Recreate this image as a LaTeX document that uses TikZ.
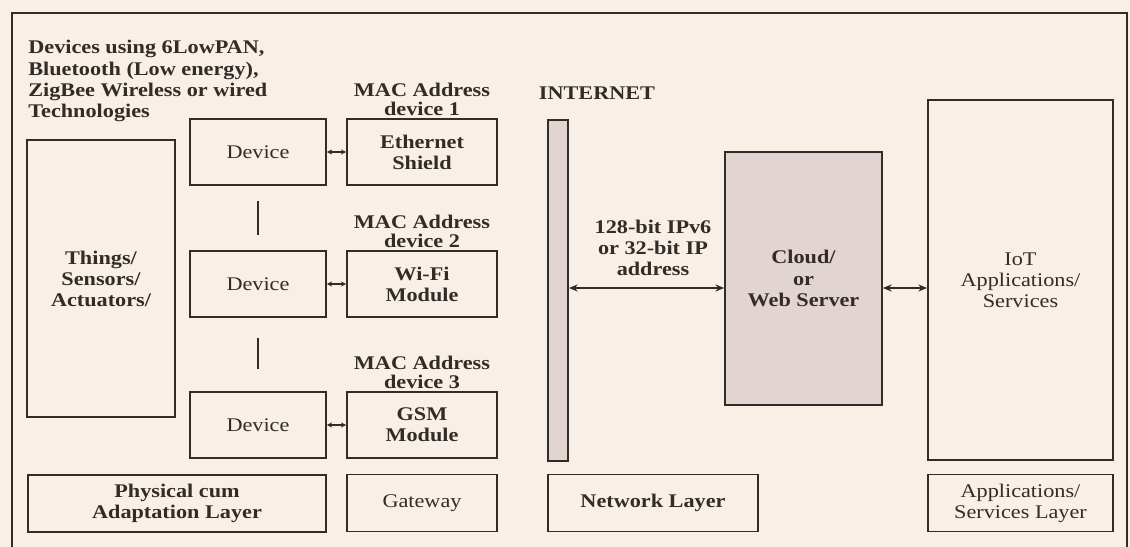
\documentclass[tikz,border=0pt]{standalone}
\usepackage{fontspec}
\setmainfont{Liberation Serif}[FakeStretch=1.15]
\usetikzlibrary{arrows.meta, positioning}
\definecolor{carta}{RGB}{248,239,230}
\definecolor{inchiostro}{RGB}{50,43,40}
\definecolor{retino}{RGB}{226,212,208}

\begin{document}
\begin{tikzpicture}[
  x=0.02cm, y=-0.02cm,
  font=\fontsize{11}{12}\selectfont,
  every node/.style={text=inchiostro},
  grassetto/.style={font=\fontsize{11}{12}\selectfont\bfseries},
  blocco/.style={draw=inchiostro, line width=1pt, inner sep=0pt, align=center},
  dispositivo/.style={blocco, minimum width=2.72cm, minimum height=1.32cm},
  modulo/.style={blocco, grassetto, minimum width=3.0cm, minimum height=1.32cm},
  strato/.style={blocco, minimum height=1.14cm},
  indirizzo/.style={inner sep=0pt, align=center, font=\fontsize{11}{11}\selectfont\bfseries},
  punta/.style={{Stealth[length=5pt,width=4pt]}-{Stealth[length=5pt,width=4pt]}},
  puntina/.style={{Stealth[length=3pt,width=3pt]}-{Stealth[length=3pt,width=3pt]}},
  collegamento/.style={draw=inchiostro, line width=0.9pt, punta},
  trattino/.style={draw=inchiostro, line width=1.4pt}
]
\path[use as bounding box, fill=carta] (0,0) rectangle (1130,547);

% cornice
\draw[inchiostro, line width=1pt] (12,560) -- (12,13) -- (1127,13) -- (1127,560);

\node[anchor=west, align=left, inner sep=0pt, grassetto] (tec) at (28,81)
  {Devices using 6LowPAN,\\Bluetooth (Low energy),\\ZigBee Wireless or wired\\Technologies};
\node[blocco, grassetto, minimum width=2.96cm, minimum height=5.54cm] (T) at (101,278.5)
  {Things/\\Sensors/\\Actuators/};

\foreach \c/\y/\m in {1/152/{Ethernet\\Shield}, 2/284/{Wi-Fi\\Module}, 3/425/{GSM\\Module}} {
  \node[dispositivo] (D\c) at (258,\y) {Device};
  \node[modulo] (M\c) at (422,\y) {\m};
  \node[indirizzo, above=1pt of M\c] (A\c) {MAC Address\\device \c};
  \draw[draw=inchiostro, line width=0.9pt, puntina] (D\c) -- (M\c);
}
\draw[trattino, shorten <=0.3cm, shorten >=0.3cm] (D1) -- (D2);
\draw[trattino, shorten <=0.4cm, shorten >=0.44cm] (D2) -- (D3);

% rete
\node[grassetto] (N) at (597,93) {INTERNET};
\node[blocco, fill=retino, minimum width=0.4cm, minimum height=6.82cm] (B) at (558,290.5) {};
\node[blocco, grassetto, fill=retino, minimum width=3.14cm, minimum height=5.06cm] (C) at (803.5,278.5)
  {Cloud/\\or\\Web Server};
\node[blocco, minimum width=3.7cm, minimum height=7.2cm] (S) at (1020.5,280)
  {IoT\\Applications/\\Services};
\node[align=center, grassetto] (IP) at (653,248) {128-bit IPv6\\or 32-bit IP\\address};

\coordinate (livello) at (0,288);
\draw[collegamento] (B.east |- livello) -- (C.west |- livello);
\draw[collegamento] (C.east |- livello) -- (S.west |- livello);

% strati
\node[strato, grassetto, minimum width=5.96cm] (L1) at (177,503.5) {Physical cum\\Adaptation Layer};
\node[strato, minimum width=3.0cm] (L2) at (422,503) {Gateway};
\node[strato, grassetto, minimum width=4.2cm] (L3) at (653,503) {Network Layer};
\node[strato, minimum width=3.7cm] (L4) at (1020.5,503) {Applications/\\Services Layer};

\end{tikzpicture}
\end{document}
